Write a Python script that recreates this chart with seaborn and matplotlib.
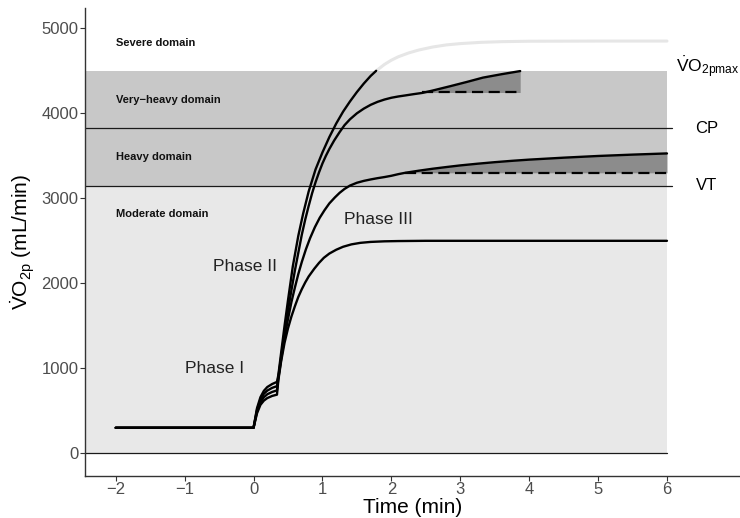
import numpy as np
import pandas as pd
import matplotlib
matplotlib.use("Agg")
import matplotlib.pyplot as plt
import seaborn as sns

sns.set_theme(style="white")
plt.rcParams["font.family"] = ["Liberation Sans", "DejaVu Sans"]
plt.rcParams["mathtext.fontset"] = "custom"
plt.rcParams["mathtext.rm"] = "Liberation Sans"
plt.rcParams["mathtext.it"] = "Liberation Sans:italic"
plt.rcParams["mathtext.bf"] = "Liberation Sans:bold"

# ---------------- data ----------------
t_mod = [-2, 0, 0.05, 0.1, 0.15, 0.2, 0.27, 0.34, 0.36, 0.40, 0.45, 0.5, 0.55, 0.6,
         0.65, 0.7, 0.75, 0.8, 0.88, 0.95, 1.02, 1.1, 1.2, 1.3, 1.42, 1.55, 1.7,
         1.9, 2.1, 2.5, 6.0]
v_mod = [300, 300, 470, 570, 620, 650, 675, 690, 860, 1080, 1300, 1470, 1610, 1730,
         1840, 1930, 2010, 2080, 2170, 2240, 2300, 2350, 2395, 2430, 2458, 2476, 2487,
         2494, 2497, 2500, 2500]

t_hvy = [-2, 0, 0.05, 0.1, 0.15, 0.2, 0.27, 0.34, 0.36, 0.40, 0.45, 0.5, 0.55, 0.6,
         0.65, 0.7, 0.76, 0.82, 0.89, 0.96, 1.03, 1.1, 1.18, 1.25, 1.32, 1.4, 1.5,
         1.6, 1.7, 1.8, 1.9, 2.0, 2.1, 2.2, 2.4, 2.6, 2.8, 3.0, 3.25, 3.5, 3.75, 4.0,
         4.5, 5.0, 5.5, 6.0]
v_hvy = [300, 300, 490, 600, 660, 695, 722, 740, 880, 1100, 1360, 1580, 1780, 1950,
         2110, 2250, 2400, 2530, 2660, 2770, 2860, 2940, 3010, 3065, 3110, 3150, 3183,
         3205, 3222, 3237, 3250, 3265, 3284, 3300, 3325, 3348, 3368, 3387, 3407, 3425,
         3441, 3455, 3478, 3498, 3514, 3528]

t_vhv = [-2, 0, 0.05, 0.1, 0.15, 0.2, 0.27, 0.34, 0.36, 0.40, 0.45, 0.5, 0.55, 0.6,
         0.65, 0.7, 0.75, 0.8, 0.85, 0.9, 0.95, 1.0, 1.05, 1.1, 1.17, 1.25, 1.32,
         1.4, 1.5, 1.6, 1.7, 1.8, 1.9, 2.0, 2.1, 2.2, 2.32, 2.45, 2.6, 2.85, 3.1,
         3.33, 3.6, 3.87]
v_vhv = [300, 300, 510, 630, 700, 738, 770, 790, 900, 1130, 1420, 1680, 1920, 2150,
         2360, 2570, 2750, 2910, 3060, 3190, 3305, 3410, 3500, 3580, 3680, 3780, 3860,
         3930, 4000, 4055, 4100, 4135, 4162, 4183, 4198, 4210, 4225, 4240, 4268, 4318,
         4370, 4420, 4460, 4497]

t_sev = [-2, 0, 0.05, 0.1, 0.15, 0.2, 0.27, 0.34, 0.36, 0.40, 0.45, 0.5, 0.57, 0.65,
         0.72, 0.8, 0.9, 1.0, 1.1, 1.2, 1.3, 1.4, 1.5, 1.6, 1.7, 1.78]
v_sev = [300, 300, 530, 660, 735, 780, 815, 840, 920, 1180, 1500, 1800, 2200, 2560,
         2820, 3080, 3340, 3540, 3720, 3880, 4020, 4140, 4250, 4350, 4440, 4500]

t_sev_hi = [1.78, 1.9, 2.0, 2.1, 2.25, 2.4, 2.6, 2.8, 3.0, 3.3, 3.6, 4.0, 5.0, 6.0]
v_sev_hi = [4500, 4575, 4625, 4665, 4710, 4745, 4780, 4805, 4820, 4835, 4843, 4848,
            4850, 4850]

VT, CP, VO2MAX = 3150, 3825, 4500
hvy_base, hvy_dash_start = 3300, 2.2
vhv_base, vhv_dash_start = 4245, 2.45

domain_names = ["Severe domain", "Very\u2212heavy domain", "Heavy domain", "Moderate domain"]
domain_y = [4830, 4160, 3490, 2815]
phase_names = ["Phase I", "Phase II", "Phase III"]
phase_x = [-0.57, -0.12, 1.81]
phase_y = [993, 2192, 2745]

x_ticks = [-2, -1, 0, 1, 2, 3, 4, 5, 6]
y_ticks = [0, 1000, 2000, 3000, 4000, 5000]

# ---------------- figure ----------------
fig = plt.figure(figsize=(7.4, 5.18), dpi=100)
ax = fig.add_axes([85 / 740, 42 / 518, 655 / 740, 468 / 518])
XL, XR = -2.446, 7.06
ax.set_xlim(XL, XR)
ax.set_ylim(-267, 5239)

band_x = [XL, 6.0]
ax.fill_between(band_x, 0, VT, color="#e8e8e8", lw=0, zorder=0)
ax.fill_between(band_x, VT, VO2MAX, color="#c8c8c8", lw=0, zorder=0)

# slow-component shaded areas
th = np.array(t_hvy); vh = np.array(v_hvy)
m = th >= hvy_dash_start
ax.fill_between(th[m], hvy_base, vh[m], color="#8c8c8c", lw=0, zorder=1)
tv = np.array(t_vhv); vv = np.array(v_vhv)
m2 = tv >= vhv_dash_start
ax.fill_between(tv[m2], vhv_base, vv[m2], color="#8c8c8c", lw=0, zorder=1)

# threshold lines
ax.plot([XL, 6.07], [CP, CP], color="#1a1a1a", lw=0.9, zorder=2)
ax.plot([XL, 6.07], [VT, VT], color="#1a1a1a", lw=0.9, zorder=2)
ax.plot([XL, 6.0], [0, 0], color="#1a1a1a", lw=0.9, zorder=2)

# curves
df = pd.concat([
    pd.DataFrame({"t": t_mod, "v": v_mod, "curve": "moderate"}),
    pd.DataFrame({"t": t_hvy, "v": v_hvy, "curve": "heavy"}),
    pd.DataFrame({"t": t_vhv, "v": v_vhv, "curve": "very heavy"}),
    pd.DataFrame({"t": t_sev, "v": v_sev, "curve": "severe"}),
])
sns.lineplot(data=df, x="t", y="v", units="curve", estimator=None, color="black",
             lw=1.7, ax=ax, zorder=4, sort=False)
df_hi = pd.DataFrame({"t": t_sev_hi, "v": v_sev_hi})
sns.lineplot(data=df_hi, x="t", y="v", color="#e6e6e6", lw=2.2, ax=ax, zorder=3,
             estimator=None, sort=False)

# dashed baselines of slow components
ax.plot([hvy_dash_start, 6.0], [hvy_base, hvy_base], color="black", lw=1.6,
        dashes=(5, 2.5), zorder=4)
ax.plot([vhv_dash_start, t_vhv[-1]], [vhv_base, vhv_base], color="black", lw=1.6,
        dashes=(5, 2.5), zorder=4)

# texts
for name, y in zip(domain_names, domain_y):
    ax.text(-2.0, y, name, fontsize=8, fontweight="bold", color="#111111",
            ha="left", va="center", zorder=5)
for name, x, y in zip(phase_names, phase_x, phase_y):
    ax.text(x, y, name, fontsize=12.5, color="#222222", ha="center", va="center",
            zorder=5)
ax.text(6.13, 4540, r"$\dot{\mathrm{V}}\mathrm{O}_{2\mathrm{pmax}}$", fontsize=12.5,
        ha="left", va="center", color="black", clip_on=False)
ax.text(6.58, CP, "CP", fontsize=12, ha="center", va="center", color="black")
ax.text(6.58, VT, "VT", fontsize=12, ha="center", va="center", color="black")

# axes styling
ax.set_xticks(x_ticks)
ax.set_yticks(y_ticks)
ax.tick_params(axis="both", which="both", direction="out", length=3.5, width=0.8,
               color="#333333", labelsize=12, labelcolor="#4d4d4d", pad=1,
               left=True, bottom=True)
for side in ["top", "right"]:
    ax.spines[side].set_visible(False)
for side in ["left", "bottom"]:
    ax.spines[side].set_color("#333333")
    ax.spines[side].set_linewidth(1.0)
ax.grid(False)
ax.set_facecolor("white")

ax.set_xlabel("Time (min)", fontsize=15, color="black")
ax.set_ylabel(r"$\dot{\mathrm{V}}\mathrm{O}_{2\mathrm{p}}$ (mL/min)", fontsize=15,
              color="black")
ax.xaxis.set_label_coords(0.5, -0.047)
ax.yaxis.set_label_coords(-0.073, 0.5)

fig.savefig("out.png", dpi=100)
